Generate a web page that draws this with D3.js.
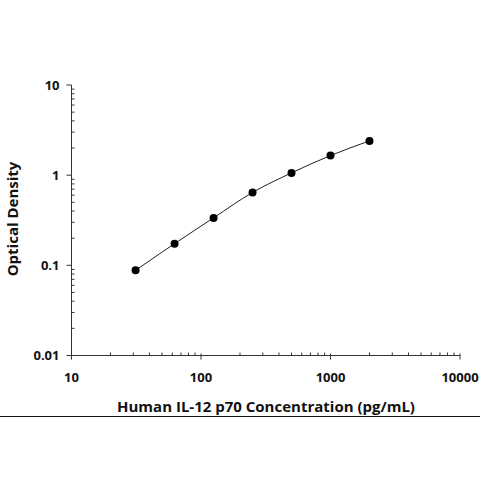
<!DOCTYPE html>
<html>
<head>
<meta charset="utf-8">
<script src="https://cdn.jsdelivr.net/npm/d3@7"></script>
<style>
  body { margin: 0; background: #fff; }
  svg { display: block; }
  text { font-family: "Open Sans", "Noto Sans", sans-serif; font-weight: 700; fill: #111; }
</style>
</head>
<body>
<svg id="chart" width="500" height="500"></svg>
<script>
const concentrations = [31.25, 62.5, 125, 250, 500, 1000, 2000];
const opticalDensity = [0.088, 0.174, 0.336, 0.643, 1.06, 1.65, 2.40];
const xTickValues = [10, 100, 1000, 10000];
const xTickLabels = ["10", "100", "1000", "10000"];
const yTickValues = [0.01, 0.1, 1, 10];
const yTickLabels = ["0.01", "0.1", "1", "10"];
const xTitle = "Human IL-12 p70 Concentration (pg/mL)";
const yTitle = "Optical Density";

const svg = d3.select("#chart");
const plotLeft = 71.5, plotRight = 460, plotTop = 85, plotBottom = 355.5;

const x = d3.scaleLog().domain([10, 10000]).range([plotLeft, plotRight]);
const y = d3.scaleLog().domain([0.01, 10]).range([plotBottom, plotTop]);

const data = concentrations.map((c, i) => ({ c, od: opticalDensity[i] }));

function minors(domain) {
  const out = [];
  for (let e = Math.log10(domain[0]); e < Math.log10(domain[1]) - 1e-9; e++) {
    for (let m = 2; m <= 9; m++) out.push(m * Math.pow(10, e));
  }
  return out;
}

const axisColor = "#333";
const g = svg.append("g");

g.append("line").attr("x1", plotLeft - 4).attr("x2", plotRight).attr("y1", plotBottom).attr("y2", plotBottom)
  .attr("stroke", axisColor).attr("stroke-width", 1);
g.append("line").attr("x1", plotLeft).attr("x2", plotLeft).attr("y1", plotTop).attr("y2", plotBottom)
  .attr("stroke", axisColor).attr("stroke-width", 1);

g.selectAll(".xmaj").data(xTickValues).enter().append("line")
  .attr("x1", d => x(d)).attr("x2", d => x(d))
  .attr("y1", plotBottom - 2).attr("y2", plotBottom + 4)
  .attr("stroke", axisColor).attr("stroke-width", 1);
g.selectAll(".xmin").data(minors(x.domain())).enter().append("line")
  .attr("x1", d => x(d)).attr("x2", d => x(d))
  .attr("y1", plotBottom - 3).attr("y2", plotBottom)
  .attr("stroke", axisColor).attr("stroke-width", 1);
g.selectAll(".ymaj").data(yTickValues).enter().append("line")
  .attr("x1", plotLeft - 5).attr("x2", plotLeft)
  .attr("y1", d => y(d)).attr("y2", d => y(d))
  .attr("stroke", axisColor).attr("stroke-width", 1);
g.selectAll(".ymin").data(minors(y.domain())).enter().append("line")
  .attr("x1", plotLeft).attr("x2", plotLeft + 3)
  .attr("y1", d => y(d)).attr("y2", d => y(d))
  .attr("stroke", axisColor).attr("stroke-width", 1);

g.selectAll(".xl").data(xTickValues).enter().append("text")
  .attr("x", d => x(d)).attr("y", 381.5)
  .attr("text-anchor", "middle").attr("font-size", 13)
  .text((d, i) => xTickLabels[i]);
g.selectAll(".yl").data(yTickValues).enter().append("text")
  .attr("x", 59.5).attr("y", d => y(d)).attr("dy", "0.36em")
  .attr("text-anchor", "end").attr("font-size", 13)
  .text((d, i) => yTickLabels[i]);

svg.append("text").attr("x", 266).attr("y", 412)
  .attr("text-anchor", "middle").attr("font-size", 15).text(xTitle);
svg.append("text").attr("transform", "translate(17.5,219) rotate(-90)")
  .attr("text-anchor", "middle").attr("font-size", 15).text(yTitle);

svg.append("line").attr("x1", 0).attr("x2", 480).attr("y1", 416.5).attr("y2", 416.5)
  .attr("stroke", "#111").attr("stroke-width", 1);

const line = d3.line().x(d => x(d.c)).y(d => y(d.od)).curve(d3.curveMonotoneX);
svg.append("path").datum(data).attr("d", line)
  .attr("fill", "none").attr("stroke", "#222").attr("stroke-width", 1);

svg.selectAll(".pt").data(data).enter().append("circle")
  .attr("cx", d => x(d.c)).attr("cy", d => y(d.od)).attr("r", 4)
  .attr("fill", "#000");
</script>
</body>
</html>
